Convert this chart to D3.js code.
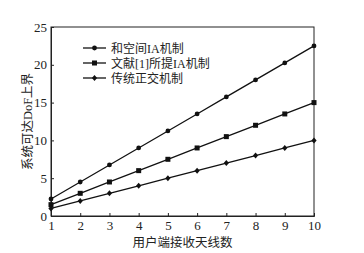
<!DOCTYPE html>
<html>
<head>
<meta charset="utf-8">
<script src="https://cdn.jsdelivr.net/npm/d3@7"></script>
<style>
  body { margin: 0; background: #fff; }
  text { font-family: "Liberation Serif", "Noto Sans CJK SC", serif; fill: #222; }
</style>
</head>
<body>
<div class="chart"></div>
<script>
//Data
var antennas = [1, 2, 3, 4, 5, 6, 7, 8, 9, 10];
var proposed = [2.25, 4.5, 6.75, 9, 11.25, 13.5, 15.75, 18, 20.25, 22.5];
var reference1 = [1.5, 3, 4.5, 6, 7.5, 9, 10.5, 12, 13.5, 15];
var orthogonal = [1, 2, 3, 4, 5, 6, 7, 8, 9, 10];
var seriesNames = ["和空间IA机制", "文献[1]所提IA机制", "传统正交机制"];
var markers = ["circle", "square", "diamond"];
var yTicks = [0, 5, 10, 15, 20, 25];

//Width and height
var w = 364;
var h = 253;

var svg = d3.select(".chart")
    .append("svg")
    .attr("width", w)
    .attr("height", h);

//Scales
var xScale = d3.scaleLinear()
    .domain([1, 10])
    .range([51, 314]);

var yScale = d3.scaleLinear()
    .domain([0, 25])
    .range([216, 27]);

//Axes, ticks pointing inward
var xAxis = d3.axisBottom(xScale)
    .tickValues(antennas)
    .tickSize(-3)
    .tickPadding(5)
    .tickFormat(d3.format("d"));
svg.append("g")
    .attr("transform", "translate(0," + yScale(0) + ")")
    .call(xAxis);

var yAxis = d3.axisLeft(yScale)
    .tickValues(yTicks)
    .tickSize(-3)
    .tickPadding(4);
svg.append("g")
    .attr("transform", "translate(" + xScale(1) + ",0)")
    .call(yAxis);

svg.selectAll(".tick text")
    .style("font-size", "13px")
    .attr("fill", "#222");
svg.selectAll(".domain, .tick line").attr("stroke", "#222");

//Box around the plot
svg.append("rect")
    .attr("x", xScale(1))
    .attr("y", yScale(25))
    .attr("width", xScale(10) - xScale(1))
    .attr("height", yScale(0) - yScale(25))
    .attr("fill", "none")
    .attr("stroke", "#222")
    .attr("stroke-width", 1);

//Axis titles
svg.append("text")
    .attr("x", (xScale(1) + xScale(10)) / 2)
    .attr("y", 247)
    .attr("text-anchor", "middle")
    .style("font-size", "12.5px")
    .text("用户端接收天线数");

svg.append("text")
    .attr("transform", "translate(32," + ((yScale(0) + yScale(25)) / 2) + ") rotate(-90)")
    .attr("text-anchor", "middle")
    .style("font-size", "12.5px")
    .text("系统可达DoF上界");

//Marker drawing
function drawMarker(g, type, x, y) {
    if (type === "circle") {
        g.append("circle").attr("cx", x).attr("cy", y).attr("r", 2.4).attr("fill", "#111");
    } else if (type === "square") {
        g.append("rect").attr("x", x - 2.5).attr("y", y - 2.5).attr("width", 5).attr("height", 5).attr("fill", "#111");
    } else {
        g.append("path").attr("d", "M" + x + "," + (y - 3) + "L" + (x + 2.6) + "," + y + "L" + x + "," + (y + 3) + "L" + (x - 2.6) + "," + y + "Z").attr("fill", "#111");
    }
}

var line = d3.line()
    .x(d => xScale(d[0]))
    .y(d => yScale(d[1]));

[proposed, reference1, orthogonal].forEach((vals, i) => {
    var pts = antennas.map((a, j) => [a, vals[j]]);
    var g = svg.append("g");
    g.append("path")
        .attr("d", line(pts))
        .attr("fill", "none")
        .attr("stroke", "#111")
        .attr("stroke-width", 1.3);
    pts.forEach(p => drawMarker(g, markers[i], xScale(p[0]), yScale(p[1])));
});

//Legend
var legend = svg.append("g");
seriesNames.forEach((name, i) => {
    var y = 48 + i * 15;
    legend.append("line")
        .attr("x1", 83).attr("x2", 106)
        .attr("y1", y).attr("y2", y)
        .attr("stroke", "#111")
        .attr("stroke-width", 1.3);
    drawMarker(legend, markers[i], 94.5, y);
    legend.append("text")
        .attr("x", 111)
        .attr("y", y + 4.5)
        .style("font-size", "12px")
        .text(name);
});
</script>
</body>
</html>
